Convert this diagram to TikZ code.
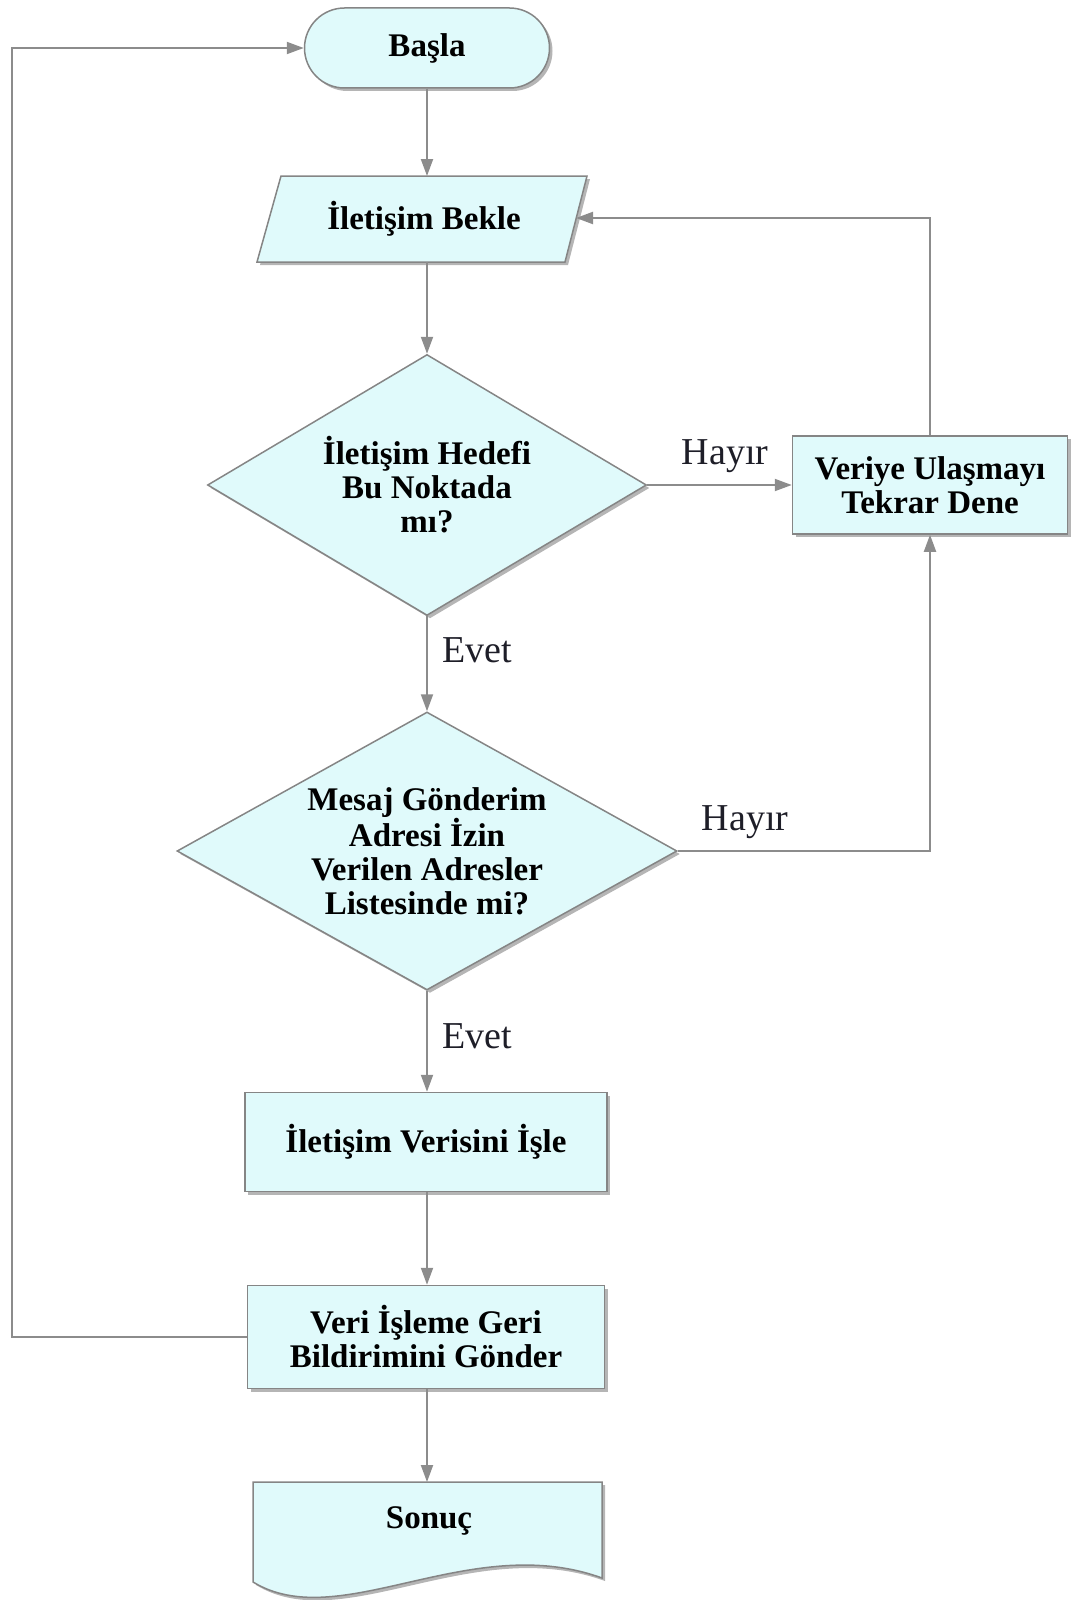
\documentclass[tikz,border=0pt]{standalone}
\usepackage{fontspec}
\setmainfont{Liberation Serif}
\usetikzlibrary{shapes.geometric,arrows.meta,shadows,calc}
\definecolor{fillc}{HTML}{E0FAFB}
\definecolor{edgec}{HTML}{858585}
\definecolor{linec}{HTML}{8C8C8C}
\definecolor{shadc}{HTML}{B5B5B5}
\definecolor{labc}{HTML}{1E1E28}
\begin{document}
\begin{tikzpicture}[x=1pt,y=-1pt,
  shp/.style={draw=edgec, line width=1.5pt, fill=fillc},
  box/.style={shp, drop shadow={shadow xshift=3pt,shadow yshift=-3pt,fill=shadc,opacity=1},
     font=\fontsize{33}{34}\selectfont\bfseries, align=center, inner sep=0pt},
  txt/.style={font=\fontsize{33}{34}\selectfont\bfseries, align=center, inner sep=0pt},
  dia/.style={box, diamond, shape aspect=1.7},
  lab/.style={font=\fontsize{38}{40}\selectfont, text=labc, inner sep=0pt},
  conn/.style={draw=linec, line width=2pt, -{Triangle[length=17pt,width=12pt]}},
  plain/.style={draw=linec, line width=2pt}]
\useasboundingbox (0,0) rectangle (1075,1600);

% Start terminal
\node[box, rounded corners=40pt, minimum width=245pt, minimum height=80pt] (start) at (427,48) {Başla};

% Parallelogram (input)
\fill[shadc] (260,265) -- (284,179) -- (590,179) -- (568,265) -- cycle;
\draw[shp] (257,262) -- (281,176) -- (587,176) -- (565,262) -- cycle;
\node[txt] (wait) at (424,219) {İletişim Bekle};
\coordinate (waitN) at (427,176);
\coordinate (waitS) at (427,262);
\coordinate (waitE) at (576,218);

% Decision 1
\node[dia, minimum width=439pt, minimum height=261pt] (d1) at (427,485) {İletişim Hedefi\\Bu Noktada\\mı?};

% Retry box
\node[box, minimum width=275pt, minimum height=98pt] (retry) at (930,485) {Veriye Ulaşmayı\\Tekrar Dene};

% Decision 2
\node[dia, shape aspect=1.8, minimum width=500pt, minimum height=278pt] (d2) at (427,851) {Mesaj Gönderim\\Adresi İzin\\Verilen Adresler\\Listesinde mi?};

% Process boxes
\node[box, minimum width=362pt, minimum height=99pt] (proc) at (426,1142) {İletişim Verisini İşle};
\node[box, minimum width=357pt, minimum height=103pt] (send) at (426,1337) {Veri İşleme Geri\\Bildirimini Gönder};

% Document shape
\fill[shadc] (256,1485) -- (605,1485) -- (605,1581) .. controls (473,1533) and (343,1638) .. (256,1585) -- cycle;
\draw[shp] (253,1482) -- (602,1482) -- (602,1578) .. controls (470,1530) and (340,1635) .. (253,1582) -- cycle;
\node[txt] (end) at (429,1521) {Sonuç};
\coordinate (endN) at (427,1482);

% Loop-back corner
\coordinate (lc) at (12,1335);

% Connectors
\draw[conn] (start.south -| waitN) -- (waitN);
\draw[conn] (waitS) -- (d1.north);
\draw[conn] (d1.east) -- (retry.west);
\draw[conn] (retry.north) |- (waitE);
\draw[conn] (d1.south) -- (d2.north);
\draw[conn] (d2.east) -| (retry.south);
\draw[conn] (d2.south) -- (proc.north -| d2.south);
\draw[conn] (proc.south -| d2.south) -- (send.north -| d2.south);
\draw[conn] (send.south -| d2.south) -- (endN);
\draw[conn] (send.west) -- (send.west -| lc) |- (start.west);

% Labels
\node[lab] (h1) at (725,456) {Hayır};
\node[lab] (h2) at (745,822) {Hayır};
\node[lab] (e1) at (477,650) {Evet};
\node[lab] (e2) at (477,1036) {Evet};
\end{tikzpicture}
\end{document}
